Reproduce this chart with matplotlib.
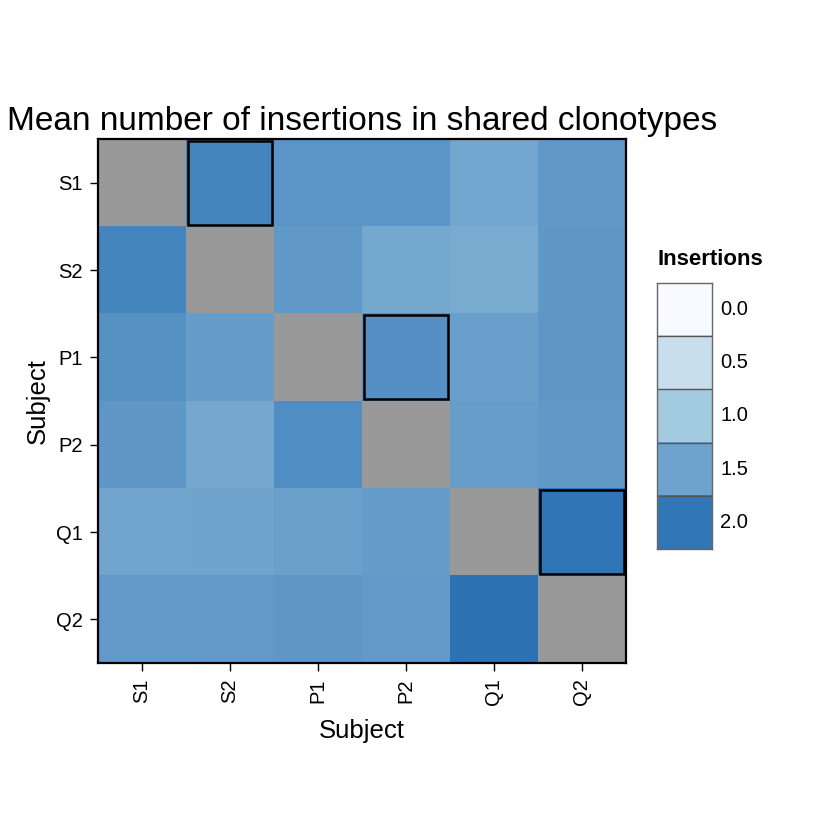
import numpy as np
import matplotlib
matplotlib.use("Agg")
import matplotlib.pyplot as plt
from matplotlib.colors import LinearSegmentedColormap, Normalize
from matplotlib.patches import Rectangle

plt.rcParams['font.family'] = ['Liberation Sans', 'DejaVu Sans']

subjects = ["S1", "S2", "P1", "P2", "Q1", "Q2"]
row_S1 = [np.nan, 1.84, 1.66, 1.66, 1.46, 1.62]
row_S2 = [1.84, np.nan, 1.62, 1.43, 1.40, 1.63]
row_P1 = [1.70, 1.58, np.nan, 1.71, 1.54, 1.64]
row_P2 = [1.63, 1.44, 1.75, np.nan, 1.56, 1.62]
row_Q1 = [1.47, 1.48, 1.53, 1.57, np.nan, 2.01]
row_Q2 = [1.60, 1.61, 1.64, 1.61, 2.05, np.nan]
highlight_pairs = [("S1", "S2"), ("P1", "P2"), ("Q1", "Q2")]
legend_values = [0.0, 0.5, 1.0, 1.5, 2.0]
legend_title = "Insertions"

data = np.array([row_S1, row_S2, row_P1, row_P2, row_Q1, row_Q2])

vmax = 2.1
stops = [(0.0, "#F7FBFF"), (0.5, "#C9DEEC"), (1.0, "#A3CBE0"),
         (1.5, "#6FA3CD"), (2.0, "#3278B8"), (2.1, "#2A6FB1")]
cmap = LinearSegmentedColormap.from_list("ins", [(v / vmax, c) for v, c in stops])
cmap.set_bad("#999999")
norm = Normalize(vmin=0, vmax=vmax)

fig = plt.figure(figsize=(8.3, 8.3), dpi=100)
ax = fig.add_axes([0.118, 0.2012, 0.636, 0.6313])
ax.imshow(np.ma.masked_invalid(data), cmap=cmap, norm=norm, aspect="auto",
          interpolation="nearest")
n = len(subjects)
ax.set_xticks(range(n))
ax.set_yticks(range(n))
ax.set_xticklabels(subjects, rotation=90, fontsize=14.5)
ax.set_yticklabels(subjects, fontsize=14.5)
ax.tick_params(length=6, width=1, direction="out", pad=5)
for s in ax.spines.values():
    s.set_linewidth(1.6)
for r, c in highlight_pairs:
    i, j = subjects.index(r), subjects.index(c)
    ax.add_patch(Rectangle((j - 0.5 + 0.02, i - 0.5 + 0.02), 0.96, 0.96,
                           fill=False, edgecolor="black", linewidth=1.8))
ax.set_xlabel("Subject", fontsize=18.5, labelpad=10)
ax.set_ylabel("Subject", fontsize=18.5, labelpad=4)
fig.text(0.009, 0.843, "Mean number of insertions in shared clonotypes",
         fontsize=24, ha="left", va="baseline")

# legend
lax = fig.add_axes([0.7916, 0.3386, 0.0663, 0.3205])
lv = np.array(legend_values)[:, None]
lax.imshow(lv, cmap=cmap, norm=norm, aspect="auto", interpolation="nearest",
           extent=(0, 1, len(legend_values), 0))
for k in range(1, len(legend_values)):
    lax.axhline(k, color="#555555", linewidth=1)
lax.set_xlim(0, 1)
lax.set_ylim(len(legend_values), 0)
lax.set_xticks([])
lax.set_yticks([])
for s in lax.spines.values():
    s.set_color("#666666")
    s.set_linewidth(1)
for k, v in enumerate(legend_values):
    lax.text(1.15, k + 0.5, f"{v:.1f}", transform=lax.transData, fontsize=14.5,
             va="center", ha="left", clip_on=False)
fig.text(0.7916, 0.681, legend_title, fontsize=16, fontweight="bold",
         ha="left", va="baseline")

fig.savefig("out.png", dpi=100)
